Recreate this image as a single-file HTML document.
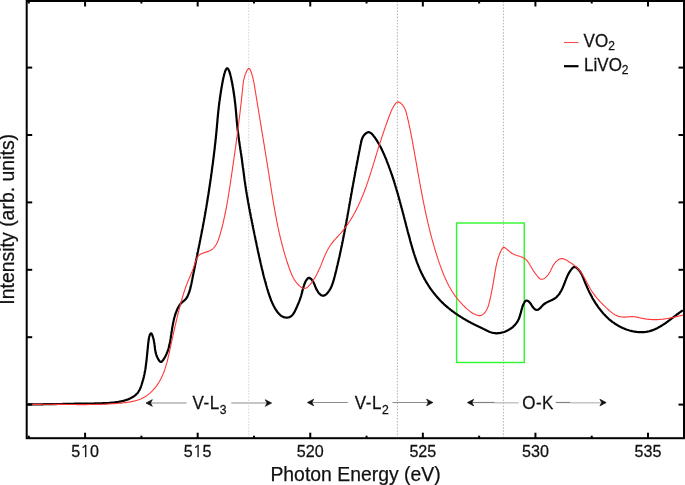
<!DOCTYPE html>
<html><head><meta charset="utf-8"><style>
html,body{margin:0;padding:0;background:#fff;}
body{width:685px;height:485px;overflow:hidden;}
svg{display:block;font-family:"Liberation Sans",Arial,sans-serif;}
text{stroke:#111;stroke-width:0.25px;}
</style></head><body>
<svg width="685" height="485" viewBox="0 0 685 485">
<rect width="685" height="485" fill="#fff"/>
<g stroke="#a8a8a8" stroke-width="1" stroke-dasharray="1.5 1.587" stroke-dashoffset="0.77"><line x1="248.7" y1="2" x2="248.7" y2="437" stroke="#d2d2d2"/><line x1="397.4" y1="2" x2="397.4" y2="437" stroke="#b0b0b0"/><line x1="503.4" y1="2" x2="503.4" y2="437" stroke="#b0b0b0"/></g>
<rect x="456.6" y="223" width="67.7" height="139.5" fill="none" stroke="#2cf82c" stroke-width="1.4"/>
<path d="M27.5 404.4 L28.3 404.4 L29.1 404.4 L29.9 404.4 L30.7 404.4 L31.5 404.4 L32.3 404.4 L33.1 404.4 L33.9 404.3 L34.7 404.3 L35.5 404.3 L36.3 404.3 L37.1 404.3 L37.9 404.3 L38.7 404.3 L39.5 404.3 L40.3 404.3 L41.1 404.3 L41.9 404.3 L42.7 404.3 L43.5 404.2 L44.3 404.2 L45.1 404.2 L45.9 404.2 L46.7 404.2 L47.5 404.2 L48.3 404.2 L49.1 404.2 L49.9 404.2 L50.7 404.1 L51.5 404.1 L52.3 404.1 L53.1 404.1 L53.9 404.1 L54.7 404.1 L55.5 404.1 L56.3 404.1 L57.1 404.0 L57.9 404.0 L58.7 404.0 L59.5 404.0 L60.3 404.0 L61.1 404.0 L61.9 404.0 L62.7 403.9 L63.5 403.9 L64.3 403.9 L65.1 403.9 L65.9 403.9 L66.7 403.9 L67.5 403.9 L68.3 403.9 L69.1 403.8 L69.9 403.8 L70.7 403.8 L71.5 403.8 L72.3 403.8 L73.1 403.8 L73.9 403.8 L74.7 403.7 L75.5 403.7 L76.3 403.7 L77.1 403.7 L77.9 403.7 L78.7 403.7 L79.5 403.7 L80.3 403.6 L81.1 403.6 L81.9 403.6 L82.7 403.6 L83.5 403.6 L84.3 403.6 L85.1 403.6 L85.9 403.6 L86.7 403.6 L87.5 403.5 L88.3 403.5 L89.1 403.5 L89.9 403.5 L90.7 403.5 L91.5 403.5 L92.4 403.5 L93.2 403.5 L94.0 403.5 L94.8 403.4 L95.6 403.4 L96.4 403.4 L97.2 403.4 L98.0 403.4 L98.8 403.4 L99.6 403.3 L100.4 403.3 L101.2 403.3 L102.0 403.3 L102.8 403.2 L103.6 403.2 L104.4 403.2 L105.2 403.1 L106.0 403.1 L106.8 403.1 L107.6 403.0 L108.4 403.0 L109.2 402.9 L110.0 402.8 L110.8 402.8 L111.6 402.7 L112.4 402.6 L113.2 402.5 L113.9 402.5 L114.7 402.4 L115.5 402.3 L116.3 402.2 L117.1 402.1 L117.9 402.0 L118.7 401.8 L119.4 401.7 L120.2 401.6 L121.0 401.4 L121.8 401.2 L122.5 401.1 L123.3 400.9 L124.1 400.7 L124.9 400.4 L125.6 400.2 L126.4 399.9 L127.2 399.7 L127.9 399.4 L128.7 399.1 L129.5 398.7 L130.2 398.4 L130.9 398.0 L131.7 397.6 L132.4 397.2 L133.1 396.8 L133.8 396.3 L134.4 395.9 L135.1 395.4 L135.7 394.9 L136.3 394.3 L136.8 393.8 L137.4 393.2 L137.9 392.6 L138.3 392.0 L138.7 391.3 L139.1 390.6 L139.5 390.0 L139.9 389.3 L140.2 388.5 L140.5 387.8 L140.8 387.1 L141.0 386.3 L141.3 385.6 L141.6 384.8 L141.8 384.0 L142.0 383.3 L142.3 382.5 L142.5 381.7 L142.7 380.9 L143.0 380.1 L143.2 379.4 L143.4 378.6 L143.6 377.8 L143.8 377.0 L144.0 376.2 L144.1 375.4 L144.3 374.7 L144.5 373.9 L144.6 373.1 L144.8 372.3 L144.9 371.5 L145.1 370.7 L145.2 370.0 L145.4 369.2 L145.5 368.4 L145.6 367.6 L145.7 366.8 L145.8 366.0 L145.9 365.2 L146.0 364.5 L146.1 363.7 L146.2 362.9 L146.3 362.1 L146.4 361.3 L146.5 360.5 L146.6 359.7 L146.7 358.9 L146.8 358.1 L146.8 357.4 L146.9 356.6 L147.0 355.8 L147.1 355.0 L147.1 354.2 L147.2 353.4 L147.3 352.6 L147.4 351.8 L147.5 351.0 L147.5 350.2 L147.6 349.4 L147.7 348.6 L147.8 347.8 L147.9 347.0 L147.9 346.2 L148.0 345.4 L148.1 344.6 L148.2 343.7 L148.3 342.9 L148.4 342.1 L148.5 341.3 L148.6 340.5 L148.7 339.7 L148.8 338.8 L149.0 338.0 L149.1 337.2 L149.3 336.4 L149.6 335.6 L149.8 334.9 L150.2 334.2 L150.5 333.7 L150.9 333.4 L151.2 333.4 L151.6 333.8 L152.0 334.4 L152.3 335.1 L152.6 336.0 L152.9 337.0 L153.2 338.0 L153.5 338.9 L153.7 339.9 L153.9 340.8 L154.0 341.7 L154.2 342.6 L154.3 343.4 L154.4 344.2 L154.6 345.0 L154.7 345.8 L154.8 346.6 L154.8 347.3 L154.9 348.1 L155.0 348.8 L155.1 349.5 L155.2 350.3 L155.4 351.0 L155.5 351.7 L155.6 352.4 L155.8 353.1 L156.0 353.8 L156.2 354.6 L156.5 355.3 L156.7 356.0 L157.0 356.8 L157.4 357.5 L157.8 358.3 L158.2 359.1 L158.7 359.9 L159.2 360.7 L159.7 361.3 L160.2 361.7 L160.8 361.9 L161.4 361.8 L161.9 361.4 L162.4 360.9 L163.0 360.2 L163.5 359.5 L164.0 358.7 L164.4 358.0 L164.9 357.2 L165.3 356.5 L165.7 355.7 L166.0 355.0 L166.4 354.2 L166.7 353.5 L167.0 352.7 L167.3 352.0 L167.6 351.2 L167.9 350.5 L168.1 349.7 L168.4 348.9 L168.6 348.2 L168.8 347.4 L169.0 346.6 L169.2 345.9 L169.4 345.1 L169.6 344.3 L169.7 343.6 L169.9 342.8 L170.0 342.0 L170.2 341.2 L170.3 340.4 L170.4 339.7 L170.6 338.9 L170.7 338.1 L170.8 337.3 L170.9 336.5 L171.0 335.7 L171.2 334.9 L171.3 334.1 L171.4 333.3 L171.5 332.5 L171.6 331.8 L171.8 331.0 L171.9 330.2 L172.0 329.4 L172.1 328.6 L172.3 327.8 L172.4 327.0 L172.5 326.2 L172.7 325.4 L172.8 324.6 L173.0 323.8 L173.1 323.0 L173.3 322.2 L173.5 321.4 L173.6 320.7 L173.8 319.9 L174.0 319.1 L174.2 318.3 L174.4 317.5 L174.6 316.8 L174.8 316.0 L175.1 315.2 L175.3 314.5 L175.6 313.7 L175.8 313.0 L176.1 312.2 L176.4 311.5 L176.7 310.7 L177.0 310.0 L177.3 309.2 L177.6 308.5 L178.0 307.8 L178.4 307.1 L178.8 306.4 L179.2 305.7 L179.6 305.1 L180.1 304.4 L180.6 303.8 L181.1 303.2 L181.7 302.7 L182.3 302.1 L182.9 301.6 L183.5 301.1 L184.2 300.6 L184.8 300.0 L185.3 299.5 L185.9 298.9 L186.3 298.2 L186.8 297.6 L187.2 296.9 L187.6 296.2 L187.9 295.4 L188.2 294.7 L188.5 293.9 L188.8 293.2 L189.1 292.4 L189.4 291.7 L189.6 290.9 L189.8 290.2 L190.1 289.4 L190.3 288.6 L190.5 287.8 L190.6 287.1 L190.8 286.3 L191.0 285.5 L191.2 284.7 L191.3 283.9 L191.5 283.2 L191.7 282.4 L191.8 281.6 L192.0 280.8 L192.1 280.0 L192.3 279.2 L192.4 278.5 L192.6 277.7 L192.7 276.9 L192.9 276.1 L193.1 275.3 L193.2 274.5 L193.4 273.7 L193.5 273.0 L193.7 272.2 L193.9 271.4 L194.0 270.6 L194.2 269.8 L194.3 269.0 L194.5 268.2 L194.7 267.5 L194.8 266.7 L195.0 265.9 L195.1 265.1 L195.3 264.3 L195.5 263.5 L195.6 262.7 L195.8 262.0 L195.9 261.2 L196.1 260.4 L196.3 259.6 L196.4 258.8 L196.6 258.0 L196.7 257.2 L196.9 256.5 L197.1 255.7 L197.2 254.9 L197.4 254.1 L197.5 253.3 L197.7 252.5 L197.9 251.7 L198.0 251.0 L198.2 250.2 L198.3 249.4 L198.5 248.6 L198.7 247.8 L198.8 247.0 L199.0 246.2 L199.1 245.5 L199.3 244.7 L199.5 243.9 L199.6 243.1 L199.8 242.3 L199.9 241.5 L200.1 240.8 L200.2 240.0 L200.4 239.2 L200.5 238.4 L200.7 237.6 L200.9 236.8 L201.0 236.0 L201.2 235.3 L201.3 234.5 L201.5 233.7 L201.6 232.9 L201.8 232.1 L201.9 231.3 L202.1 230.6 L202.2 229.8 L202.4 229.0 L202.5 228.2 L202.7 227.4 L202.8 226.6 L203.0 225.9 L203.1 225.1 L203.3 224.3 L203.4 223.5 L203.5 222.7 L203.7 222.0 L203.8 221.2 L204.0 220.4 L204.1 219.6 L204.3 218.8 L204.4 218.0 L204.5 217.3 L204.7 216.5 L204.8 215.7 L205.0 214.9 L205.1 214.1 L205.2 213.4 L205.4 212.6 L205.5 211.8 L205.6 211.0 L205.8 210.2 L205.9 209.4 L206.0 208.7 L206.2 207.9 L206.3 207.1 L206.4 206.3 L206.6 205.5 L206.7 204.7 L206.8 203.9 L207.0 203.2 L207.1 202.4 L207.2 201.6 L207.4 200.8 L207.5 200.0 L207.6 199.2 L207.7 198.4 L207.9 197.6 L208.0 196.8 L208.1 196.1 L208.2 195.3 L208.4 194.5 L208.5 193.7 L208.6 192.9 L208.7 192.1 L208.9 191.3 L209.0 190.5 L209.1 189.7 L209.2 188.9 L209.3 188.1 L209.5 187.3 L209.6 186.5 L209.7 185.7 L209.8 184.9 L209.9 184.1 L210.1 183.3 L210.2 182.5 L210.3 181.6 L210.4 180.8 L210.5 180.0 L210.6 179.2 L210.8 178.4 L210.9 177.6 L211.0 176.8 L211.1 176.0 L211.2 175.1 L211.3 174.3 L211.4 173.5 L211.6 172.7 L211.7 171.9 L211.8 171.0 L211.9 170.2 L212.0 169.4 L212.1 168.6 L212.2 167.8 L212.3 166.9 L212.4 166.1 L212.6 165.3 L212.7 164.5 L212.8 163.7 L212.9 162.8 L213.0 162.0 L213.1 161.2 L213.2 160.4 L213.3 159.6 L213.4 158.8 L213.5 157.9 L213.6 157.1 L213.7 156.3 L213.8 155.5 L213.9 154.7 L214.0 153.9 L214.1 153.1 L214.2 152.3 L214.3 151.5 L214.4 150.7 L214.5 149.9 L214.6 149.1 L214.7 148.3 L214.8 147.5 L214.8 146.7 L214.9 145.9 L215.0 145.1 L215.1 144.3 L215.2 143.5 L215.3 142.8 L215.4 142.0 L215.5 141.2 L215.5 140.4 L215.6 139.7 L215.7 138.9 L215.8 138.1 L215.9 137.4 L215.9 136.6 L216.0 135.9 L216.1 135.1 L216.2 134.4 L216.2 133.6 L216.3 132.9 L216.4 132.1 L216.5 131.4 L216.5 130.7 L216.6 130.0 L216.7 129.2 L216.7 128.5 L216.8 127.8 L216.9 127.1 L216.9 126.4 L217.0 125.7 L217.0 125.0 L217.1 124.3 L217.2 123.6 L217.2 122.9 L217.3 122.2 L217.4 121.5 L217.4 120.8 L217.5 120.1 L217.5 119.4 L217.6 118.7 L217.7 117.9 L217.7 117.2 L217.8 116.5 L217.9 115.8 L217.9 115.1 L218.0 114.4 L218.1 113.6 L218.2 112.9 L218.2 112.2 L218.3 111.4 L218.4 110.7 L218.5 109.9 L218.6 109.1 L218.6 108.4 L218.7 107.6 L218.8 106.8 L218.9 106.0 L219.0 105.2 L219.1 104.4 L219.2 103.6 L219.3 102.7 L219.4 101.9 L219.5 101.0 L219.7 100.2 L219.8 99.3 L219.9 98.4 L220.0 97.5 L220.2 96.6 L220.3 95.7 L220.4 94.7 L220.6 93.8 L220.7 92.8 L220.9 91.8 L221.0 90.8 L221.2 89.8 L221.4 88.8 L221.5 87.7 L221.7 86.7 L221.9 85.6 L222.1 84.5 L222.3 83.5 L222.5 82.4 L222.7 81.3 L222.9 80.3 L223.1 79.2 L223.3 78.2 L223.5 77.2 L223.8 76.2 L224.0 75.3 L224.2 74.4 L224.4 73.6 L224.7 72.8 L224.9 72.0 L225.1 71.3 L225.4 70.7 L225.6 70.1 L225.9 69.6 L226.1 69.2 L226.4 68.8 L226.6 68.6 L226.9 68.4 L227.1 68.3 L227.4 68.3 L227.6 68.4 L227.9 68.6 L228.1 68.9 L228.4 69.3 L228.6 69.7 L228.8 70.2 L229.1 70.8 L229.3 71.5 L229.6 72.2 L229.8 73.0 L230.1 73.8 L230.3 74.6 L230.5 75.5 L230.8 76.5 L231.0 77.4 L231.2 78.4 L231.4 79.5 L231.6 80.5 L231.8 81.6 L232.1 82.6 L232.3 83.7 L232.4 84.8 L232.6 85.9 L232.8 86.9 L233.0 88.0 L233.2 89.0 L233.3 90.0 L233.5 91.0 L233.6 92.0 L233.8 93.0 L233.9 94.0 L234.1 94.9 L234.2 95.9 L234.3 96.8 L234.5 97.7 L234.6 98.6 L234.7 99.4 L234.8 100.3 L234.9 101.2 L235.0 102.0 L235.1 102.9 L235.2 103.7 L235.3 104.5 L235.4 105.3 L235.5 106.1 L235.5 106.9 L235.6 107.7 L235.7 108.5 L235.8 109.2 L235.8 110.0 L235.9 110.7 L236.0 111.5 L236.0 112.2 L236.1 113.0 L236.2 113.7 L236.2 114.4 L236.3 115.1 L236.4 115.9 L236.4 116.6 L236.5 117.3 L236.5 118.0 L236.6 118.7 L236.7 119.4 L236.7 120.1 L236.8 120.8 L236.8 121.5 L236.9 122.3 L237.0 123.0 L237.0 123.7 L237.1 124.4 L237.2 125.1 L237.2 125.8 L237.3 126.5 L237.4 127.2 L237.5 128.0 L237.5 128.7 L237.6 129.4 L237.7 130.2 L237.8 130.9 L237.9 131.6 L238.0 132.4 L238.1 133.1 L238.2 133.9 L238.3 134.7 L238.4 135.4 L238.5 136.2 L238.6 137.0 L238.7 137.8 L238.8 138.5 L238.9 139.3 L239.0 140.1 L239.1 140.9 L239.3 141.7 L239.4 142.5 L239.5 143.3 L239.6 144.1 L239.7 144.9 L239.8 145.7 L240.0 146.5 L240.1 147.3 L240.2 148.1 L240.3 148.9 L240.4 149.7 L240.6 150.5 L240.7 151.3 L240.8 152.2 L240.9 153.0 L241.1 153.8 L241.2 154.6 L241.3 155.4 L241.4 156.2 L241.5 157.0 L241.6 157.8 L241.8 158.6 L241.9 159.5 L242.0 160.3 L242.1 161.1 L242.2 161.9 L242.3 162.7 L242.4 163.5 L242.5 164.3 L242.6 165.1 L242.7 165.9 L242.8 166.7 L242.9 167.5 L243.1 168.3 L243.2 169.1 L243.3 169.9 L243.4 170.7 L243.5 171.5 L243.6 172.3 L243.7 173.1 L243.8 173.9 L243.9 174.6 L244.0 175.4 L244.1 176.2 L244.2 177.0 L244.3 177.8 L244.4 178.6 L244.5 179.4 L244.6 180.2 L244.7 181.0 L244.9 181.8 L245.0 182.6 L245.1 183.3 L245.2 184.1 L245.3 184.9 L245.4 185.7 L245.6 186.5 L245.7 187.3 L245.8 188.1 L245.9 188.9 L246.0 189.7 L246.2 190.4 L246.3 191.2 L246.4 192.0 L246.6 192.8 L246.7 193.6 L246.8 194.4 L247.0 195.2 L247.1 196.0 L247.2 196.7 L247.4 197.5 L247.5 198.3 L247.6 199.1 L247.8 199.9 L247.9 200.7 L248.0 201.5 L248.2 202.3 L248.3 203.0 L248.5 203.8 L248.6 204.6 L248.8 205.4 L248.9 206.2 L249.0 207.0 L249.2 207.8 L249.3 208.5 L249.5 209.3 L249.6 210.1 L249.8 210.9 L249.9 211.7 L250.1 212.5 L250.2 213.3 L250.4 214.0 L250.5 214.8 L250.7 215.6 L250.8 216.4 L251.0 217.2 L251.2 218.0 L251.3 218.8 L251.5 219.5 L251.6 220.3 L251.8 221.1 L251.9 221.9 L252.1 222.7 L252.3 223.5 L252.4 224.2 L252.6 225.0 L252.7 225.8 L252.9 226.6 L253.0 227.4 L253.2 228.2 L253.4 229.0 L253.5 229.7 L253.7 230.5 L253.9 231.3 L254.0 232.1 L254.2 232.9 L254.3 233.7 L254.5 234.5 L254.7 235.2 L254.8 236.0 L255.0 236.8 L255.1 237.6 L255.3 238.4 L255.5 239.2 L255.6 240.0 L255.8 240.7 L256.0 241.5 L256.1 242.3 L256.3 243.1 L256.5 243.9 L256.6 244.7 L256.8 245.5 L256.9 246.2 L257.1 247.0 L257.3 247.8 L257.4 248.6 L257.6 249.4 L257.8 250.2 L257.9 251.0 L258.1 251.7 L258.3 252.5 L258.4 253.3 L258.6 254.1 L258.8 254.9 L259.0 255.7 L259.1 256.4 L259.3 257.2 L259.5 258.0 L259.7 258.8 L259.8 259.6 L260.0 260.4 L260.2 261.1 L260.4 261.9 L260.5 262.7 L260.7 263.5 L260.9 264.3 L261.1 265.0 L261.3 265.8 L261.4 266.6 L261.6 267.4 L261.8 268.2 L262.0 268.9 L262.2 269.7 L262.4 270.5 L262.6 271.3 L262.8 272.1 L262.9 272.8 L263.1 273.6 L263.3 274.4 L263.5 275.2 L263.7 275.9 L263.9 276.7 L264.1 277.5 L264.3 278.2 L264.5 279.0 L264.7 279.8 L264.9 280.6 L265.2 281.3 L265.4 282.1 L265.6 282.9 L265.8 283.6 L266.0 284.4 L266.2 285.2 L266.4 285.9 L266.7 286.7 L266.9 287.5 L267.1 288.2 L267.3 289.0 L267.5 289.7 L267.8 290.5 L268.0 291.3 L268.2 292.0 L268.5 292.8 L268.7 293.5 L269.0 294.3 L269.2 295.0 L269.5 295.8 L269.7 296.5 L270.0 297.3 L270.3 298.0 L270.6 298.8 L270.8 299.5 L271.1 300.3 L271.4 301.0 L271.8 301.8 L272.1 302.5 L272.4 303.2 L272.8 304.0 L273.1 304.7 L273.5 305.4 L273.8 306.2 L274.2 306.9 L274.6 307.6 L275.0 308.3 L275.5 309.1 L275.9 309.8 L276.4 310.5 L276.8 311.2 L277.3 311.8 L277.8 312.5 L278.4 313.1 L278.9 313.7 L279.5 314.3 L280.0 314.8 L280.6 315.3 L281.3 315.8 L281.9 316.2 L282.6 316.6 L283.3 316.9 L284.0 317.2 L284.7 317.4 L285.5 317.5 L286.3 317.6 L287.1 317.6 L287.9 317.5 L288.7 317.4 L289.4 317.2 L290.1 316.8 L290.8 316.5 L291.4 316.0 L292.0 315.5 L292.5 314.9 L293.0 314.3 L293.5 313.6 L293.9 312.9 L294.4 312.2 L294.8 311.4 L295.2 310.6 L295.5 309.9 L295.9 309.1 L296.3 308.3 L296.6 307.5 L297.0 306.7 L297.3 305.9 L297.6 305.1 L298.0 304.4 L298.3 303.6 L298.6 302.9 L298.9 302.1 L299.2 301.4 L299.5 300.6 L299.7 299.9 L300.0 299.1 L300.3 298.4 L300.5 297.7 L300.8 296.9 L301.0 296.2 L301.2 295.5 L301.4 294.7 L301.6 294.0 L301.8 293.3 L302.0 292.6 L302.2 291.9 L302.4 291.1 L302.5 290.4 L302.7 289.7 L302.9 288.9 L303.1 288.1 L303.4 287.4 L303.6 286.6 L303.9 285.8 L304.1 284.9 L304.5 284.1 L304.8 283.2 L305.2 282.3 L305.6 281.4 L306.1 280.5 L306.6 279.8 L307.1 279.1 L307.6 278.5 L308.2 278.1 L308.8 277.9 L309.4 277.9 L310.0 278.1 L310.6 278.6 L311.3 279.2 L311.8 279.8 L312.4 280.6 L312.9 281.3 L313.3 282.0 L313.7 282.8 L314.0 283.5 L314.3 284.1 L314.6 284.8 L314.9 285.5 L315.1 286.2 L315.4 286.9 L315.7 287.6 L316.0 288.4 L316.4 289.1 L316.8 289.9 L317.3 290.7 L317.8 291.5 L318.3 292.3 L318.8 293.0 L319.4 293.6 L320.0 294.2 L320.6 294.8 L321.3 295.2 L321.9 295.5 L322.6 295.7 L323.2 295.7 L323.9 295.6 L324.5 295.4 L325.2 295.0 L325.8 294.6 L326.4 294.1 L327.0 293.5 L327.6 292.8 L328.1 292.2 L328.6 291.5 L329.1 290.9 L329.5 290.2 L330.0 289.5 L330.4 288.8 L330.7 288.1 L331.1 287.4 L331.4 286.7 L331.7 285.9 L332.0 285.2 L332.3 284.4 L332.6 283.7 L332.8 282.9 L333.1 282.2 L333.3 281.4 L333.5 280.6 L333.8 279.9 L334.0 279.1 L334.2 278.3 L334.4 277.5 L334.6 276.7 L334.8 276.0 L335.0 275.2 L335.2 274.4 L335.4 273.6 L335.6 272.9 L335.8 272.1 L336.0 271.3 L336.2 270.5 L336.4 269.7 L336.5 269.0 L336.7 268.2 L336.9 267.4 L337.1 266.6 L337.3 265.8 L337.5 265.1 L337.7 264.3 L337.8 263.5 L338.0 262.7 L338.2 261.9 L338.4 261.1 L338.6 260.4 L338.7 259.6 L338.9 258.8 L339.1 258.0 L339.3 257.2 L339.5 256.5 L339.6 255.7 L339.8 254.9 L340.0 254.1 L340.1 253.3 L340.3 252.5 L340.5 251.8 L340.6 251.0 L340.8 250.2 L341.0 249.4 L341.1 248.6 L341.3 247.8 L341.5 247.1 L341.6 246.3 L341.8 245.5 L342.0 244.7 L342.1 243.9 L342.3 243.1 L342.4 242.3 L342.6 241.6 L342.8 240.8 L342.9 240.0 L343.1 239.2 L343.2 238.4 L343.4 237.6 L343.5 236.9 L343.7 236.1 L343.8 235.3 L344.0 234.5 L344.1 233.7 L344.3 232.9 L344.4 232.1 L344.6 231.4 L344.7 230.6 L344.9 229.8 L345.0 229.0 L345.2 228.2 L345.3 227.4 L345.5 226.6 L345.6 225.8 L345.8 225.1 L345.9 224.3 L346.1 223.5 L346.2 222.7 L346.4 221.9 L346.5 221.1 L346.7 220.3 L346.8 219.6 L346.9 218.8 L347.1 218.0 L347.2 217.2 L347.4 216.4 L347.5 215.6 L347.7 214.8 L347.8 214.0 L347.9 213.3 L348.1 212.5 L348.2 211.7 L348.4 210.9 L348.5 210.1 L348.6 209.3 L348.8 208.5 L348.9 207.7 L349.1 207.0 L349.2 206.2 L349.3 205.4 L349.5 204.6 L349.6 203.8 L349.8 203.0 L349.9 202.2 L350.0 201.4 L350.2 200.7 L350.3 199.9 L350.5 199.1 L350.6 198.3 L350.7 197.5 L350.9 196.7 L351.0 195.9 L351.2 195.1 L351.3 194.4 L351.4 193.6 L351.6 192.8 L351.7 192.0 L351.9 191.2 L352.0 190.4 L352.1 189.6 L352.3 188.8 L352.4 188.1 L352.6 187.3 L352.7 186.5 L352.8 185.7 L353.0 184.9 L353.1 184.1 L353.3 183.3 L353.4 182.5 L353.6 181.8 L353.7 181.0 L353.8 180.2 L354.0 179.4 L354.1 178.6 L354.3 177.8 L354.4 177.0 L354.6 176.2 L354.7 175.5 L354.9 174.7 L355.0 173.9 L355.1 173.1 L355.3 172.3 L355.4 171.5 L355.6 170.7 L355.7 169.9 L355.9 169.2 L356.0 168.4 L356.2 167.6 L356.3 166.8 L356.5 166.0 L356.6 165.2 L356.8 164.4 L356.9 163.6 L357.1 162.9 L357.2 162.1 L357.4 161.3 L357.5 160.5 L357.7 159.7 L357.8 158.9 L358.0 158.1 L358.1 157.3 L358.3 156.6 L358.4 155.8 L358.6 155.0 L358.7 154.2 L358.9 153.4 L359.0 152.6 L359.2 151.8 L359.4 151.0 L359.5 150.3 L359.7 149.5 L359.8 148.7 L360.0 147.9 L360.1 147.1 L360.3 146.3 L360.4 145.5 L360.6 144.7 L360.8 143.9 L360.9 143.2 L361.1 142.4 L361.3 141.6 L361.4 140.8 L361.7 140.0 L361.9 139.3 L362.2 138.5 L362.5 137.8 L362.8 137.1 L363.2 136.4 L363.7 135.7 L364.2 135.0 L364.8 134.4 L365.4 133.8 L366.1 133.2 L366.8 132.8 L367.5 132.4 L368.2 132.2 L368.9 132.2 L369.6 132.4 L370.3 132.7 L371.0 133.1 L371.6 133.6 L372.2 134.2 L372.8 134.9 L373.3 135.6 L373.9 136.3 L374.4 137.0 L374.9 137.7 L375.4 138.4 L375.9 139.1 L376.3 139.8 L376.8 140.4 L377.2 141.1 L377.6 141.8 L378.0 142.4 L378.4 143.1 L378.8 143.8 L379.2 144.5 L379.6 145.1 L379.9 145.8 L380.3 146.5 L380.7 147.2 L381.0 147.9 L381.4 148.6 L381.7 149.4 L382.1 150.1 L382.4 150.8 L382.8 151.5 L383.1 152.2 L383.4 153.0 L383.8 153.7 L384.1 154.4 L384.4 155.2 L384.7 155.9 L385.0 156.7 L385.3 157.4 L385.6 158.1 L386.0 158.9 L386.3 159.6 L386.6 160.4 L386.8 161.1 L387.1 161.9 L387.4 162.6 L387.7 163.4 L388.0 164.1 L388.3 164.9 L388.6 165.6 L388.9 166.4 L389.1 167.1 L389.4 167.9 L389.7 168.6 L390.0 169.4 L390.2 170.1 L390.5 170.9 L390.8 171.6 L391.0 172.4 L391.3 173.2 L391.6 173.9 L391.8 174.7 L392.1 175.4 L392.3 176.2 L392.6 177.0 L392.8 177.7 L393.1 178.5 L393.3 179.2 L393.6 180.0 L393.8 180.8 L394.1 181.5 L394.3 182.3 L394.5 183.0 L394.8 183.8 L395.0 184.6 L395.2 185.3 L395.5 186.1 L395.7 186.9 L395.9 187.6 L396.2 188.4 L396.4 189.2 L396.6 189.9 L396.8 190.7 L397.1 191.5 L397.3 192.2 L397.5 193.0 L397.7 193.8 L398.0 194.5 L398.2 195.3 L398.4 196.1 L398.6 196.8 L398.8 197.6 L399.0 198.4 L399.2 199.2 L399.5 199.9 L399.7 200.7 L399.9 201.5 L400.1 202.2 L400.3 203.0 L400.5 203.8 L400.7 204.6 L400.9 205.3 L401.1 206.1 L401.3 206.9 L401.5 207.6 L401.8 208.4 L402.0 209.2 L402.2 210.0 L402.4 210.7 L402.6 211.5 L402.8 212.3 L403.0 213.1 L403.2 213.8 L403.4 214.6 L403.6 215.4 L403.8 216.2 L404.0 216.9 L404.2 217.7 L404.4 218.5 L404.6 219.3 L404.8 220.0 L405.0 220.8 L405.2 221.6 L405.4 222.4 L405.6 223.1 L405.8 223.9 L406.0 224.7 L406.2 225.5 L406.4 226.2 L406.6 227.0 L406.8 227.8 L407.0 228.6 L407.2 229.3 L407.4 230.1 L407.6 230.9 L407.8 231.7 L408.0 232.4 L408.2 233.2 L408.4 234.0 L408.6 234.8 L408.9 235.5 L409.1 236.3 L409.3 237.1 L409.5 237.9 L409.7 238.6 L409.9 239.4 L410.1 240.2 L410.3 241.0 L410.5 241.7 L410.7 242.5 L411.0 243.3 L411.2 244.1 L411.4 244.8 L411.6 245.6 L411.8 246.4 L412.1 247.2 L412.3 247.9 L412.5 248.7 L412.7 249.5 L413.0 250.2 L413.2 251.0 L413.4 251.8 L413.7 252.5 L413.9 253.3 L414.2 254.1 L414.4 254.8 L414.7 255.6 L414.9 256.3 L415.2 257.1 L415.4 257.9 L415.7 258.6 L415.9 259.4 L416.2 260.1 L416.5 260.9 L416.7 261.6 L417.0 262.4 L417.3 263.1 L417.6 263.9 L417.9 264.6 L418.2 265.4 L418.5 266.1 L418.8 266.8 L419.1 267.6 L419.4 268.3 L419.7 269.1 L420.0 269.8 L420.3 270.5 L420.7 271.3 L421.0 272.0 L421.3 272.7 L421.7 273.4 L422.0 274.1 L422.4 274.9 L422.8 275.6 L423.1 276.3 L423.5 277.0 L423.9 277.7 L424.2 278.4 L424.6 279.1 L425.0 279.8 L425.4 280.5 L425.8 281.2 L426.2 281.9 L426.6 282.6 L427.0 283.3 L427.5 283.9 L427.9 284.6 L428.3 285.3 L428.8 286.0 L429.2 286.6 L429.6 287.3 L430.1 288.0 L430.5 288.6 L431.0 289.3 L431.5 289.9 L431.9 290.6 L432.4 291.2 L432.9 291.9 L433.4 292.5 L433.9 293.1 L434.4 293.8 L434.9 294.4 L435.4 295.0 L435.9 295.6 L436.4 296.2 L436.9 296.8 L437.4 297.4 L438.0 298.0 L438.5 298.6 L439.1 299.2 L439.6 299.8 L440.2 300.4 L440.7 301.0 L441.3 301.5 L441.8 302.1 L442.4 302.7 L443.0 303.2 L443.6 303.8 L444.1 304.3 L444.7 304.8 L445.3 305.4 L445.9 305.9 L446.5 306.4 L447.1 307.0 L447.8 307.5 L448.4 308.0 L449.0 308.5 L449.6 309.0 L450.3 309.5 L450.9 310.0 L451.5 310.5 L452.2 311.0 L452.8 311.4 L453.5 311.9 L454.1 312.4 L454.8 312.9 L455.4 313.3 L456.1 313.8 L456.7 314.2 L457.4 314.7 L458.1 315.1 L458.7 315.6 L459.4 316.0 L460.1 316.4 L460.8 316.9 L461.5 317.3 L462.1 317.7 L462.8 318.1 L463.5 318.6 L464.2 319.0 L464.9 319.4 L465.6 319.8 L466.3 320.2 L467.0 320.6 L467.7 321.0 L468.4 321.4 L469.1 321.7 L469.8 322.1 L470.5 322.5 L471.2 322.9 L471.9 323.2 L472.6 323.6 L473.3 324.0 L474.0 324.3 L474.7 324.7 L475.5 325.0 L476.2 325.4 L476.9 325.7 L477.6 326.1 L478.3 326.4 L479.0 326.8 L479.7 327.1 L480.5 327.5 L481.2 327.8 L481.9 328.1 L482.6 328.5 L483.3 328.8 L484.1 329.2 L484.8 329.5 L485.5 329.9 L486.2 330.3 L487.0 330.6 L487.7 331.0 L488.4 331.3 L489.2 331.7 L489.9 332.0 L490.7 332.2 L491.4 332.5 L492.2 332.7 L493.0 332.9 L493.8 333.0 L494.5 333.1 L495.3 333.2 L496.1 333.3 L496.9 333.3 L497.7 333.2 L498.5 333.2 L499.3 333.1 L500.1 333.0 L500.9 332.8 L501.7 332.6 L502.5 332.4 L503.2 332.2 L504.0 332.0 L504.8 331.7 L505.5 331.4 L506.3 331.1 L507.0 330.8 L507.7 330.4 L508.4 330.0 L509.2 329.6 L509.8 329.2 L510.5 328.7 L511.2 328.3 L511.8 327.8 L512.4 327.3 L513.1 326.8 L513.6 326.2 L514.2 325.7 L514.8 325.1 L515.3 324.5 L515.8 323.9 L516.3 323.3 L516.7 322.7 L517.2 322.0 L517.6 321.3 L518.0 320.6 L518.3 319.9 L518.7 319.2 L519.0 318.5 L519.3 317.8 L519.5 317.0 L519.8 316.3 L520.0 315.5 L520.2 314.7 L520.4 313.9 L520.7 313.1 L520.9 312.4 L521.1 311.6 L521.3 310.8 L521.5 310.0 L521.7 309.2 L521.9 308.4 L522.2 307.6 L522.4 306.8 L522.7 306.0 L523.0 305.2 L523.3 304.5 L523.7 303.7 L524.1 303.0 L524.5 302.2 L524.9 301.6 L525.4 301.1 L526.0 300.7 L526.6 300.6 L527.2 300.7 L527.9 301.0 L528.6 301.4 L529.2 302.0 L529.8 302.6 L530.3 303.2 L530.8 303.9 L531.2 304.6 L531.7 305.3 L532.1 306.1 L532.6 306.8 L533.2 307.5 L533.8 308.2 L534.4 308.8 L535.1 309.3 L535.8 309.7 L536.4 309.9 L537.1 310.0 L537.7 309.8 L538.3 309.6 L538.8 309.2 L539.4 308.8 L540.0 308.2 L540.6 307.6 L541.2 307.0 L541.8 306.3 L542.4 305.7 L543.0 305.0 L543.6 304.5 L544.3 304.0 L545.0 303.5 L545.7 303.0 L546.4 302.6 L547.1 302.3 L547.8 301.9 L548.5 301.6 L549.3 301.2 L550.0 300.9 L550.7 300.6 L551.4 300.3 L552.2 299.9 L552.8 299.6 L553.5 299.2 L554.2 298.8 L554.8 298.4 L555.5 298.0 L556.1 297.5 L556.6 297.0 L557.2 296.4 L557.7 295.8 L558.3 295.2 L558.7 294.6 L559.2 294.0 L559.7 293.3 L560.1 292.6 L560.5 291.9 L561.0 291.2 L561.4 290.5 L561.7 289.7 L562.1 289.0 L562.4 288.2 L562.8 287.5 L563.1 286.7 L563.4 286.0 L563.7 285.2 L564.0 284.5 L564.3 283.7 L564.6 283.0 L564.9 282.2 L565.2 281.5 L565.4 280.8 L565.7 280.1 L566.0 279.3 L566.3 278.6 L566.6 277.9 L566.9 277.2 L567.2 276.4 L567.5 275.7 L567.9 275.0 L568.2 274.3 L568.6 273.6 L569.0 272.9 L569.4 272.2 L569.9 271.5 L570.3 270.8 L570.8 270.1 L571.4 269.4 L571.9 268.7 L572.5 268.0 L573.1 267.5 L573.7 267.1 L574.3 266.9 L575.0 266.9 L575.7 267.2 L576.4 267.6 L577.0 268.1 L577.6 268.7 L578.2 269.3 L578.8 270.0 L579.3 270.6 L579.8 271.3 L580.3 271.9 L580.7 272.6 L581.1 273.3 L581.5 274.0 L581.9 274.7 L582.2 275.4 L582.5 276.1 L582.8 276.9 L583.2 277.6 L583.5 278.3 L583.7 279.0 L584.0 279.8 L584.3 280.5 L584.6 281.2 L584.9 282.0 L585.2 282.7 L585.5 283.5 L585.8 284.2 L586.1 284.9 L586.4 285.7 L586.7 286.4 L587.1 287.1 L587.4 287.9 L587.7 288.6 L588.1 289.3 L588.4 290.1 L588.7 290.8 L589.1 291.5 L589.4 292.2 L589.8 293.0 L590.2 293.7 L590.5 294.4 L590.9 295.1 L591.3 295.8 L591.7 296.5 L592.1 297.3 L592.4 298.0 L592.8 298.7 L593.2 299.4 L593.7 300.1 L594.1 300.8 L594.5 301.4 L594.9 302.1 L595.3 302.8 L595.8 303.5 L596.2 304.2 L596.7 304.8 L597.1 305.5 L597.6 306.2 L598.0 306.8 L598.5 307.5 L599.0 308.1 L599.5 308.8 L600.0 309.4 L600.5 310.0 L601.0 310.7 L601.5 311.3 L602.0 311.9 L602.5 312.5 L603.0 313.1 L603.5 313.7 L604.1 314.3 L604.6 314.9 L605.2 315.4 L605.7 316.0 L606.3 316.6 L606.9 317.1 L607.5 317.7 L608.0 318.2 L608.6 318.8 L609.2 319.3 L609.8 319.8 L610.5 320.3 L611.1 320.8 L611.7 321.3 L612.3 321.8 L613.0 322.3 L613.6 322.7 L614.3 323.2 L614.9 323.7 L615.6 324.1 L616.3 324.5 L617.0 325.0 L617.7 325.4 L618.4 325.8 L619.1 326.2 L619.8 326.6 L620.5 326.9 L621.2 327.3 L622.0 327.6 L622.7 328.0 L623.5 328.3 L624.2 328.6 L625.0 328.9 L625.7 329.2 L626.5 329.5 L627.2 329.8 L628.0 330.0 L628.8 330.3 L629.5 330.5 L630.3 330.7 L631.1 330.9 L631.9 331.1 L632.7 331.3 L633.5 331.5 L634.2 331.6 L635.0 331.7 L635.8 331.8 L636.6 331.9 L637.4 332.0 L638.2 332.1 L639.0 332.2 L639.8 332.2 L640.5 332.2 L641.3 332.2 L642.1 332.2 L642.9 332.2 L643.7 332.1 L644.5 332.1 L645.2 332.0 L646.0 331.9 L646.8 331.7 L647.6 331.6 L648.3 331.5 L649.1 331.3 L649.8 331.1 L650.6 330.9 L651.3 330.6 L652.1 330.4 L652.8 330.1 L653.6 329.8 L654.3 329.5 L655.0 329.2 L655.8 328.9 L656.5 328.5 L657.2 328.2 L657.9 327.8 L658.6 327.4 L659.3 327.0 L660.0 326.6 L660.7 326.2 L661.4 325.8 L662.1 325.3 L662.8 324.9 L663.5 324.4 L664.2 324.0 L664.9 323.5 L665.6 323.1 L666.2 322.6 L666.9 322.1 L667.6 321.6 L668.2 321.1 L668.9 320.6 L669.6 320.1 L670.2 319.6 L670.9 319.1 L671.5 318.6 L672.2 318.1 L672.8 317.6 L673.5 317.1 L674.1 316.6 L674.8 316.2 L675.4 315.7 L676.1 315.2 L676.7 314.7 L677.3 314.2 L678.0 313.8 L678.6 313.3 L679.2 312.8 L679.8 312.4 L680.5 311.9 L681.1 311.5 L681.7 311.1 L682.3 310.7 L682.9 310.3" fill="none" stroke="#000" stroke-width="2.2" stroke-linejoin="round"/>
<path d="M27.5 404.6 L28.3 404.6 L29.1 404.6 L29.9 404.5 L30.7 404.5 L31.5 404.5 L32.3 404.5 L33.1 404.5 L33.9 404.4 L34.7 404.4 L35.5 404.4 L36.4 404.4 L37.2 404.4 L38.0 404.4 L38.8 404.4 L39.6 404.4 L40.4 404.4 L41.2 404.3 L42.0 404.3 L42.8 404.3 L43.6 404.3 L44.4 404.3 L45.2 404.3 L46.0 404.3 L46.8 404.3 L47.6 404.3 L48.4 404.3 L49.2 404.3 L50.0 404.3 L50.8 404.3 L51.6 404.3 L52.4 404.3 L53.2 404.3 L54.0 404.4 L54.8 404.4 L55.6 404.4 L56.4 404.4 L57.2 404.4 L58.0 404.4 L58.8 404.4 L59.6 404.4 L60.4 404.4 L61.2 404.4 L62.0 404.4 L62.8 404.4 L63.6 404.4 L64.4 404.4 L65.2 404.5 L66.0 404.5 L66.8 404.5 L67.6 404.5 L68.4 404.5 L69.2 404.5 L69.9 404.5 L70.7 404.5 L71.5 404.5 L72.3 404.5 L73.1 404.5 L73.9 404.5 L74.7 404.5 L75.5 404.5 L76.3 404.5 L77.1 404.6 L77.9 404.6 L78.7 404.6 L79.5 404.6 L80.3 404.6 L81.1 404.6 L81.9 404.6 L82.7 404.6 L83.5 404.6 L84.3 404.6 L85.1 404.6 L85.9 404.6 L86.7 404.6 L87.5 404.5 L88.3 404.5 L89.1 404.5 L89.9 404.5 L90.7 404.5 L91.5 404.5 L92.3 404.5 L93.1 404.5 L93.9 404.5 L94.7 404.5 L95.5 404.4 L96.3 404.4 L97.1 404.4 L97.9 404.4 L98.7 404.4 L99.5 404.3 L100.3 404.3 L101.1 404.3 L101.9 404.3 L102.7 404.2 L103.5 404.2 L104.3 404.2 L105.1 404.1 L105.9 404.1 L106.7 404.1 L107.5 404.0 L108.3 404.0 L109.1 403.9 L109.9 403.9 L110.7 403.8 L111.5 403.8 L112.3 403.7 L113.1 403.7 L113.9 403.6 L114.7 403.6 L115.5 403.5 L116.4 403.5 L117.2 403.4 L118.0 403.3 L118.8 403.3 L119.6 403.2 L120.4 403.1 L121.2 403.1 L122.0 403.0 L122.8 402.9 L123.6 402.8 L124.4 402.7 L125.2 402.6 L126.0 402.5 L126.8 402.4 L127.6 402.3 L128.4 402.2 L129.2 402.1 L130.0 401.9 L130.8 401.8 L131.6 401.6 L132.4 401.5 L133.1 401.3 L133.9 401.1 L134.7 400.9 L135.4 400.7 L136.2 400.5 L137.0 400.3 L137.7 400.1 L138.5 399.8 L139.2 399.5 L139.9 399.3 L140.6 399.0 L141.4 398.7 L142.1 398.3 L142.8 398.0 L143.5 397.6 L144.2 397.3 L144.8 396.9 L145.5 396.5 L146.2 396.0 L146.8 395.6 L147.5 395.1 L148.1 394.7 L148.7 394.2 L149.3 393.7 L150.0 393.1 L150.6 392.6 L151.1 392.0 L151.7 391.5 L152.3 390.9 L152.9 390.3 L153.4 389.7 L153.9 389.1 L154.5 388.5 L155.0 387.8 L155.5 387.2 L156.0 386.6 L156.5 385.9 L157.0 385.2 L157.4 384.6 L157.9 383.9 L158.3 383.2 L158.8 382.5 L159.2 381.8 L159.6 381.1 L160.0 380.4 L160.4 379.7 L160.8 379.0 L161.1 378.3 L161.5 377.6 L161.8 376.9 L162.2 376.1 L162.5 375.4 L162.8 374.7 L163.1 373.9 L163.4 373.2 L163.7 372.5 L164.0 371.7 L164.3 371.0 L164.5 370.2 L164.8 369.5 L165.1 368.7 L165.3 368.0 L165.5 367.2 L165.8 366.5 L166.0 365.7 L166.2 364.9 L166.4 364.2 L166.7 363.4 L166.9 362.6 L167.1 361.9 L167.3 361.1 L167.5 360.3 L167.7 359.6 L167.8 358.8 L168.0 358.0 L168.2 357.2 L168.4 356.4 L168.6 355.7 L168.7 354.9 L168.9 354.1 L169.1 353.3 L169.3 352.5 L169.4 351.8 L169.6 351.0 L169.8 350.2 L169.9 349.4 L170.1 348.6 L170.3 347.9 L170.4 347.1 L170.6 346.3 L170.8 345.5 L170.9 344.7 L171.1 343.9 L171.3 343.2 L171.5 342.4 L171.6 341.6 L171.8 340.8 L172.0 340.0 L172.1 339.2 L172.3 338.5 L172.5 337.7 L172.7 336.9 L172.8 336.1 L173.0 335.3 L173.2 334.6 L173.4 333.8 L173.5 333.0 L173.7 332.2 L173.9 331.4 L174.1 330.6 L174.2 329.9 L174.4 329.1 L174.6 328.3 L174.8 327.5 L174.9 326.7 L175.1 326.0 L175.3 325.2 L175.5 324.4 L175.7 323.6 L175.9 322.8 L176.0 322.1 L176.2 321.3 L176.4 320.5 L176.6 319.7 L176.8 318.9 L177.0 318.2 L177.2 317.4 L177.3 316.6 L177.5 315.8 L177.7 315.0 L177.9 314.3 L178.1 313.5 L178.3 312.7 L178.5 311.9 L178.7 311.1 L178.9 310.4 L179.1 309.6 L179.3 308.8 L179.5 308.0 L179.7 307.2 L179.9 306.5 L180.1 305.7 L180.3 304.9 L180.5 304.1 L180.7 303.4 L180.9 302.6 L181.1 301.8 L181.4 301.0 L181.6 300.3 L181.8 299.5 L182.0 298.7 L182.2 298.0 L182.5 297.2 L182.7 296.4 L182.9 295.7 L183.2 294.9 L183.4 294.1 L183.6 293.4 L183.9 292.6 L184.1 291.8 L184.4 291.1 L184.6 290.3 L184.9 289.6 L185.1 288.8 L185.4 288.1 L185.7 287.3 L185.9 286.6 L186.2 285.8 L186.5 285.1 L186.8 284.4 L187.0 283.6 L187.3 282.9 L187.6 282.1 L187.9 281.4 L188.2 280.7 L188.5 280.0 L188.8 279.2 L189.1 278.5 L189.5 277.8 L189.8 277.0 L190.1 276.3 L190.4 275.6 L190.7 274.8 L191.0 274.1 L191.3 273.4 L191.6 272.6 L191.9 271.9 L192.2 271.1 L192.5 270.4 L192.8 269.6 L193.1 268.9 L193.4 268.1 L193.6 267.3 L193.9 266.6 L194.2 265.8 L194.4 265.0 L194.7 264.2 L194.9 263.4 L195.2 262.6 L195.4 261.8 L195.7 261.0 L196.0 260.2 L196.3 259.5 L196.6 258.8 L197.0 258.1 L197.3 257.4 L197.8 256.7 L198.2 256.1 L198.7 255.6 L199.2 255.1 L199.8 254.6 L200.5 254.2 L201.2 253.8 L201.9 253.5 L202.6 253.2 L203.4 252.9 L204.2 252.6 L205.0 252.4 L205.9 252.1 L206.7 251.9 L207.5 251.6 L208.3 251.4 L209.0 251.1 L209.8 250.7 L210.5 250.4 L211.1 250.0 L211.8 249.5 L212.4 249.1 L213.0 248.6 L213.5 248.1 L214.0 247.5 L214.5 246.9 L215.0 246.3 L215.4 245.7 L215.9 245.1 L216.3 244.4 L216.6 243.7 L217.0 243.0 L217.3 242.3 L217.7 241.6 L218.0 240.8 L218.3 240.1 L218.6 239.3 L218.8 238.5 L219.1 237.8 L219.3 237.0 L219.6 236.2 L219.8 235.4 L220.1 234.6 L220.3 233.8 L220.5 233.0 L220.7 232.2 L220.9 231.4 L221.2 230.6 L221.4 229.8 L221.6 229.0 L221.8 228.2 L222.0 227.4 L222.2 226.6 L222.4 225.8 L222.6 225.0 L222.8 224.2 L223.0 223.5 L223.2 222.7 L223.3 221.9 L223.5 221.1 L223.7 220.3 L223.9 219.5 L224.1 218.7 L224.2 217.9 L224.4 217.2 L224.6 216.4 L224.7 215.6 L224.9 214.8 L225.1 214.0 L225.2 213.2 L225.4 212.5 L225.5 211.7 L225.7 210.9 L225.9 210.1 L226.0 209.3 L226.2 208.5 L226.3 207.8 L226.5 207.0 L226.6 206.2 L226.7 205.4 L226.9 204.6 L227.0 203.9 L227.2 203.1 L227.3 202.3 L227.4 201.5 L227.6 200.7 L227.7 200.0 L227.8 199.2 L228.0 198.4 L228.1 197.6 L228.2 196.8 L228.4 196.0 L228.5 195.3 L228.6 194.5 L228.7 193.7 L228.9 192.9 L229.0 192.1 L229.1 191.4 L229.2 190.6 L229.4 189.8 L229.5 189.0 L229.6 188.2 L229.7 187.5 L229.8 186.7 L230.0 185.9 L230.1 185.1 L230.2 184.3 L230.3 183.5 L230.4 182.8 L230.5 182.0 L230.7 181.2 L230.8 180.4 L230.9 179.6 L231.0 178.8 L231.1 178.0 L231.2 177.2 L231.4 176.5 L231.5 175.7 L231.6 174.9 L231.7 174.1 L231.8 173.3 L231.9 172.5 L232.1 171.7 L232.2 170.9 L232.3 170.1 L232.4 169.3 L232.5 168.6 L232.6 167.8 L232.7 167.0 L232.9 166.2 L233.0 165.4 L233.1 164.6 L233.2 163.8 L233.3 163.0 L233.4 162.2 L233.5 161.4 L233.7 160.6 L233.8 159.8 L233.9 159.0 L234.0 158.2 L234.1 157.4 L234.2 156.6 L234.3 155.8 L234.5 155.0 L234.6 154.2 L234.7 153.4 L234.8 152.6 L234.9 151.8 L235.0 151.0 L235.1 150.2 L235.2 149.5 L235.3 148.7 L235.5 147.9 L235.6 147.1 L235.7 146.3 L235.8 145.5 L235.9 144.7 L236.0 143.9 L236.1 143.1 L236.2 142.3 L236.3 141.5 L236.4 140.7 L236.5 139.9 L236.6 139.1 L236.7 138.3 L236.9 137.5 L237.0 136.7 L237.1 135.9 L237.2 135.1 L237.3 134.3 L237.4 133.5 L237.5 132.7 L237.6 131.9 L237.7 131.1 L237.8 130.3 L237.9 129.5 L238.0 128.7 L238.1 127.9 L238.2 127.1 L238.3 126.3 L238.4 125.5 L238.5 124.7 L238.6 123.9 L238.7 123.1 L238.8 122.3 L238.9 121.5 L239.0 120.7 L239.1 119.9 L239.2 119.1 L239.3 118.3 L239.4 117.5 L239.5 116.7 L239.6 115.9 L239.7 115.1 L239.8 114.3 L239.9 113.5 L240.0 112.8 L240.1 112.0 L240.2 111.2 L240.2 110.4 L240.3 109.6 L240.4 108.8 L240.5 108.0 L240.6 107.2 L240.7 106.4 L240.8 105.6 L240.9 104.8 L241.0 104.0 L241.1 103.2 L241.2 102.5 L241.2 101.7 L241.3 100.9 L241.4 100.1 L241.5 99.3 L241.6 98.5 L241.7 97.7 L241.8 96.9 L241.8 96.2 L241.9 95.4 L242.0 94.6 L242.1 93.8 L242.2 93.0 L242.2 92.2 L242.3 91.5 L242.4 90.7 L242.5 89.9 L242.6 89.1 L242.6 88.3 L242.7 87.6 L242.8 86.8 L242.9 86.0 L243.0 85.2 L243.1 84.4 L243.1 83.7 L243.3 82.9 L243.4 82.1 L243.5 81.3 L243.6 80.5 L243.8 79.7 L244.0 78.9 L244.2 78.1 L244.4 77.3 L244.6 76.5 L244.8 75.7 L245.1 74.9 L245.4 74.1 L245.8 73.2 L246.1 72.4 L246.5 71.6 L246.9 70.7 L247.4 69.9 L247.8 69.3 L248.3 68.8 L248.7 68.5 L249.2 68.6 L249.6 68.9 L250.0 69.4 L250.3 70.1 L250.7 70.9 L251.0 71.8 L251.3 72.6 L251.6 73.5 L251.8 74.3 L252.1 75.1 L252.3 75.9 L252.6 76.7 L252.8 77.5 L253.0 78.3 L253.2 79.1 L253.3 79.9 L253.5 80.7 L253.7 81.5 L253.8 82.3 L254.0 83.1 L254.1 83.9 L254.3 84.7 L254.4 85.4 L254.5 86.2 L254.7 87.0 L254.8 87.8 L254.9 88.5 L255.0 89.3 L255.2 90.1 L255.3 90.9 L255.4 91.7 L255.5 92.4 L255.7 93.2 L255.8 94.0 L255.9 94.8 L256.1 95.6 L256.2 96.3 L256.3 97.1 L256.4 97.9 L256.6 98.7 L256.7 99.5 L256.8 100.3 L257.0 101.0 L257.1 101.8 L257.2 102.6 L257.3 103.4 L257.5 104.2 L257.6 105.0 L257.7 105.7 L257.9 106.5 L258.0 107.3 L258.1 108.1 L258.2 108.9 L258.4 109.7 L258.5 110.5 L258.6 111.2 L258.8 112.0 L258.9 112.8 L259.0 113.6 L259.1 114.4 L259.3 115.2 L259.4 116.0 L259.5 116.8 L259.7 117.5 L259.8 118.3 L259.9 119.1 L260.1 119.9 L260.2 120.7 L260.3 121.5 L260.4 122.3 L260.6 123.1 L260.7 123.9 L260.8 124.7 L261.0 125.4 L261.1 126.2 L261.2 127.0 L261.4 127.8 L261.5 128.6 L261.6 129.4 L261.7 130.2 L261.9 131.0 L262.0 131.8 L262.1 132.6 L262.3 133.4 L262.4 134.1 L262.5 134.9 L262.6 135.7 L262.8 136.5 L262.9 137.3 L263.0 138.1 L263.2 138.9 L263.3 139.7 L263.4 140.5 L263.6 141.3 L263.7 142.1 L263.8 142.9 L263.9 143.7 L264.1 144.4 L264.2 145.2 L264.3 146.0 L264.5 146.8 L264.6 147.6 L264.7 148.4 L264.8 149.2 L265.0 150.0 L265.1 150.8 L265.2 151.6 L265.4 152.4 L265.5 153.2 L265.6 154.0 L265.7 154.8 L265.9 155.6 L266.0 156.3 L266.1 157.1 L266.3 157.9 L266.4 158.7 L266.5 159.5 L266.6 160.3 L266.8 161.1 L266.9 161.9 L267.0 162.7 L267.2 163.5 L267.3 164.3 L267.4 165.1 L267.5 165.9 L267.7 166.7 L267.8 167.5 L267.9 168.2 L268.0 169.0 L268.2 169.8 L268.3 170.6 L268.4 171.4 L268.6 172.2 L268.7 173.0 L268.8 173.8 L268.9 174.6 L269.1 175.4 L269.2 176.2 L269.3 177.0 L269.4 177.8 L269.6 178.5 L269.7 179.3 L269.8 180.1 L269.9 180.9 L270.1 181.7 L270.2 182.5 L270.3 183.3 L270.4 184.1 L270.6 184.9 L270.7 185.7 L270.8 186.5 L270.9 187.2 L271.1 188.0 L271.2 188.8 L271.3 189.6 L271.4 190.4 L271.6 191.2 L271.7 192.0 L271.8 192.8 L271.9 193.6 L272.1 194.4 L272.2 195.1 L272.3 195.9 L272.5 196.7 L272.6 197.5 L272.7 198.3 L272.8 199.1 L273.0 199.9 L273.1 200.7 L273.2 201.4 L273.4 202.2 L273.5 203.0 L273.6 203.8 L273.8 204.6 L273.9 205.4 L274.0 206.2 L274.2 207.0 L274.3 207.7 L274.4 208.5 L274.6 209.3 L274.7 210.1 L274.9 210.9 L275.0 211.7 L275.1 212.5 L275.3 213.3 L275.4 214.0 L275.6 214.8 L275.7 215.6 L275.9 216.4 L276.0 217.2 L276.2 218.0 L276.3 218.7 L276.5 219.5 L276.6 220.3 L276.8 221.1 L276.9 221.9 L277.1 222.7 L277.2 223.5 L277.4 224.2 L277.6 225.0 L277.7 225.8 L277.9 226.6 L278.0 227.4 L278.2 228.2 L278.4 228.9 L278.5 229.7 L278.7 230.5 L278.9 231.3 L279.1 232.1 L279.2 232.9 L279.4 233.6 L279.6 234.4 L279.8 235.2 L279.9 236.0 L280.1 236.8 L280.3 237.5 L280.5 238.3 L280.7 239.1 L280.9 239.9 L281.1 240.7 L281.3 241.4 L281.5 242.2 L281.7 243.0 L281.9 243.8 L282.1 244.5 L282.3 245.3 L282.5 246.1 L282.7 246.9 L282.9 247.6 L283.1 248.4 L283.3 249.2 L283.5 250.0 L283.7 250.7 L283.9 251.5 L284.2 252.3 L284.4 253.0 L284.6 253.8 L284.8 254.6 L285.1 255.4 L285.3 256.1 L285.5 256.9 L285.8 257.7 L286.0 258.4 L286.2 259.2 L286.5 260.0 L286.7 260.7 L287.0 261.5 L287.2 262.3 L287.5 263.0 L287.7 263.8 L288.0 264.5 L288.2 265.3 L288.5 266.1 L288.8 266.8 L289.0 267.6 L289.3 268.3 L289.6 269.1 L289.8 269.8 L290.1 270.6 L290.4 271.3 L290.7 272.1 L291.0 272.8 L291.3 273.6 L291.6 274.3 L291.9 275.0 L292.2 275.8 L292.6 276.5 L293.0 277.2 L293.3 277.9 L293.7 278.6 L294.1 279.3 L294.5 280.0 L295.0 280.6 L295.4 281.3 L295.9 281.9 L296.4 282.6 L296.9 283.2 L297.4 283.8 L298.0 284.4 L298.6 285.0 L299.2 285.6 L299.8 286.1 L300.5 286.7 L301.1 287.2 L301.8 287.6 L302.5 288.0 L303.2 288.2 L303.9 288.4 L304.6 288.4 L305.3 288.3 L306.0 288.1 L306.6 287.8 L307.3 287.4 L307.9 286.9 L308.5 286.3 L309.1 285.7 L309.7 285.0 L310.3 284.3 L310.9 283.6 L311.4 282.9 L311.9 282.2 L312.4 281.5 L312.9 280.7 L313.4 280.0 L313.9 279.3 L314.3 278.6 L314.8 277.9 L315.2 277.2 L315.6 276.5 L316.0 275.8 L316.4 275.1 L316.7 274.4 L317.1 273.7 L317.5 273.0 L317.8 272.3 L318.2 271.6 L318.5 270.8 L318.8 270.1 L319.1 269.4 L319.4 268.7 L319.8 268.0 L320.1 267.3 L320.4 266.6 L320.7 265.9 L321.0 265.1 L321.3 264.4 L321.6 263.7 L321.8 262.9 L322.1 262.2 L322.4 261.5 L322.7 260.7 L323.0 260.0 L323.3 259.2 L323.6 258.5 L323.9 257.8 L324.2 257.0 L324.6 256.3 L324.9 255.6 L325.2 254.8 L325.5 254.1 L325.9 253.4 L326.2 252.6 L326.6 251.9 L326.9 251.2 L327.3 250.5 L327.7 249.8 L328.0 249.1 L328.4 248.4 L328.8 247.7 L329.3 247.0 L329.7 246.3 L330.1 245.7 L330.6 245.0 L331.0 244.4 L331.5 243.7 L332.0 243.1 L332.5 242.4 L333.0 241.8 L333.5 241.2 L334.0 240.6 L334.6 240.0 L335.1 239.4 L335.7 238.8 L336.2 238.2 L336.7 237.6 L337.3 237.0 L337.8 236.4 L338.4 235.8 L338.9 235.2 L339.5 234.6 L340.0 234.0 L340.5 233.4 L341.1 232.8 L341.6 232.2 L342.1 231.5 L342.6 230.9 L343.1 230.3 L343.6 229.7 L344.1 229.0 L344.6 228.4 L345.1 227.8 L345.6 227.1 L346.0 226.5 L346.5 225.9 L347.0 225.2 L347.4 224.6 L347.9 223.9 L348.3 223.2 L348.8 222.6 L349.2 221.9 L349.6 221.3 L350.1 220.6 L350.5 219.9 L350.9 219.3 L351.3 218.6 L351.8 217.9 L352.2 217.2 L352.6 216.5 L353.0 215.8 L353.4 215.2 L353.7 214.5 L354.1 213.8 L354.5 213.1 L354.9 212.4 L355.3 211.7 L355.6 211.0 L356.0 210.3 L356.4 209.6 L356.7 208.8 L357.1 208.1 L357.4 207.4 L357.8 206.7 L358.1 206.0 L358.5 205.3 L358.8 204.5 L359.1 203.8 L359.5 203.1 L359.8 202.4 L360.1 201.6 L360.5 200.9 L360.8 200.2 L361.1 199.4 L361.4 198.7 L361.7 198.0 L362.0 197.2 L362.3 196.5 L362.6 195.7 L362.9 195.0 L363.2 194.3 L363.5 193.5 L363.8 192.8 L364.1 192.0 L364.4 191.3 L364.7 190.5 L365.0 189.8 L365.2 189.0 L365.5 188.2 L365.8 187.5 L366.1 186.7 L366.3 186.0 L366.6 185.2 L366.9 184.5 L367.1 183.7 L367.4 182.9 L367.7 182.2 L367.9 181.4 L368.2 180.6 L368.4 179.9 L368.7 179.1 L368.9 178.3 L369.2 177.6 L369.4 176.8 L369.7 176.0 L369.9 175.3 L370.2 174.5 L370.4 173.7 L370.7 173.0 L370.9 172.2 L371.2 171.4 L371.4 170.6 L371.6 169.9 L371.9 169.1 L372.1 168.3 L372.4 167.6 L372.6 166.8 L372.8 166.0 L373.1 165.2 L373.3 164.5 L373.5 163.7 L373.8 162.9 L374.0 162.2 L374.3 161.4 L374.5 160.6 L374.7 159.8 L375.0 159.1 L375.2 158.3 L375.4 157.5 L375.7 156.8 L375.9 156.0 L376.1 155.2 L376.4 154.5 L376.6 153.7 L376.8 152.9 L377.1 152.2 L377.3 151.4 L377.5 150.6 L377.8 149.9 L378.0 149.1 L378.2 148.3 L378.5 147.6 L378.7 146.8 L379.0 146.0 L379.2 145.3 L379.4 144.5 L379.7 143.8 L379.9 143.0 L380.2 142.3 L380.4 141.5 L380.7 140.7 L380.9 140.0 L381.2 139.2 L381.4 138.5 L381.6 137.7 L381.9 137.0 L382.1 136.2 L382.4 135.5 L382.7 134.7 L382.9 134.0 L383.2 133.2 L383.4 132.5 L383.7 131.7 L383.9 131.0 L384.2 130.2 L384.4 129.5 L384.7 128.7 L385.0 128.0 L385.2 127.2 L385.5 126.5 L385.8 125.7 L386.0 125.0 L386.3 124.2 L386.6 123.5 L386.8 122.8 L387.1 122.0 L387.4 121.3 L387.6 120.5 L387.9 119.8 L388.2 119.0 L388.5 118.3 L388.7 117.5 L389.0 116.8 L389.3 116.1 L389.6 115.3 L389.9 114.6 L390.1 113.8 L390.4 113.1 L390.7 112.3 L391.0 111.6 L391.4 110.8 L391.7 110.1 L392.0 109.3 L392.4 108.6 L392.8 107.8 L393.2 107.1 L393.6 106.3 L394.1 105.6 L394.6 104.8 L395.1 104.1 L395.6 103.4 L396.2 102.9 L396.8 102.4 L397.4 102.1 L398.0 102.0 L398.7 102.1 L399.4 102.3 L400.1 102.7 L400.8 103.2 L401.4 103.8 L402.1 104.4 L402.6 105.1 L403.2 105.8 L403.7 106.5 L404.1 107.3 L404.5 108.0 L404.9 108.7 L405.2 109.5 L405.5 110.2 L405.8 111.0 L406.0 111.7 L406.2 112.5 L406.4 113.3 L406.6 114.0 L406.8 114.8 L407.0 115.6 L407.2 116.4 L407.4 117.1 L407.6 117.9 L407.7 118.7 L407.9 119.5 L408.1 120.2 L408.3 121.0 L408.5 121.8 L408.6 122.6 L408.8 123.3 L409.0 124.1 L409.1 124.9 L409.3 125.7 L409.5 126.5 L409.6 127.2 L409.8 128.0 L410.0 128.8 L410.1 129.6 L410.3 130.4 L410.4 131.2 L410.6 131.9 L410.7 132.7 L410.9 133.5 L411.1 134.3 L411.2 135.1 L411.4 135.9 L411.5 136.6 L411.7 137.4 L411.8 138.2 L412.0 139.0 L412.1 139.8 L412.3 140.6 L412.4 141.4 L412.6 142.1 L412.7 142.9 L412.8 143.7 L413.0 144.5 L413.1 145.3 L413.3 146.1 L413.4 146.9 L413.6 147.7 L413.7 148.4 L413.8 149.2 L414.0 150.0 L414.1 150.8 L414.3 151.6 L414.4 152.4 L414.5 153.2 L414.7 154.0 L414.8 154.7 L415.0 155.5 L415.1 156.3 L415.2 157.1 L415.4 157.9 L415.5 158.7 L415.7 159.5 L415.8 160.3 L415.9 161.1 L416.1 161.8 L416.2 162.6 L416.4 163.4 L416.5 164.2 L416.6 165.0 L416.8 165.8 L416.9 166.6 L417.1 167.4 L417.2 168.2 L417.3 169.0 L417.5 169.7 L417.6 170.5 L417.8 171.3 L417.9 172.1 L418.0 172.9 L418.2 173.7 L418.3 174.5 L418.5 175.3 L418.6 176.1 L418.7 176.8 L418.9 177.6 L419.0 178.4 L419.2 179.2 L419.3 180.0 L419.4 180.8 L419.6 181.6 L419.7 182.4 L419.9 183.2 L420.0 183.9 L420.2 184.7 L420.3 185.5 L420.5 186.3 L420.6 187.1 L420.7 187.9 L420.9 188.7 L421.0 189.5 L421.2 190.3 L421.3 191.0 L421.5 191.8 L421.6 192.6 L421.8 193.4 L421.9 194.2 L422.1 195.0 L422.2 195.8 L422.4 196.6 L422.5 197.3 L422.7 198.1 L422.8 198.9 L423.0 199.7 L423.2 200.5 L423.3 201.3 L423.5 202.1 L423.6 202.8 L423.8 203.6 L423.9 204.4 L424.1 205.2 L424.3 206.0 L424.4 206.8 L424.6 207.5 L424.7 208.3 L424.9 209.1 L425.1 209.9 L425.2 210.7 L425.4 211.5 L425.6 212.3 L425.7 213.0 L425.9 213.8 L426.1 214.6 L426.3 215.4 L426.4 216.2 L426.6 216.9 L426.8 217.7 L426.9 218.5 L427.1 219.3 L427.3 220.1 L427.5 220.8 L427.7 221.6 L427.8 222.4 L428.0 223.2 L428.2 224.0 L428.4 224.7 L428.6 225.5 L428.8 226.3 L428.9 227.1 L429.1 227.9 L429.3 228.6 L429.5 229.4 L429.7 230.2 L429.9 231.0 L430.1 231.7 L430.3 232.5 L430.5 233.3 L430.7 234.1 L430.9 234.8 L431.1 235.6 L431.3 236.4 L431.5 237.2 L431.7 237.9 L431.9 238.7 L432.1 239.5 L432.3 240.2 L432.5 241.0 L432.8 241.8 L433.0 242.6 L433.2 243.3 L433.4 244.1 L433.6 244.9 L433.9 245.6 L434.1 246.4 L434.3 247.2 L434.5 247.9 L434.8 248.7 L435.0 249.5 L435.2 250.2 L435.4 251.0 L435.7 251.8 L435.9 252.5 L436.2 253.3 L436.4 254.1 L436.6 254.8 L436.9 255.6 L437.1 256.3 L437.4 257.1 L437.6 257.9 L437.9 258.6 L438.1 259.4 L438.4 260.1 L438.6 260.9 L438.9 261.7 L439.2 262.4 L439.4 263.2 L439.7 263.9 L439.9 264.7 L440.2 265.5 L440.5 266.2 L440.8 267.0 L441.0 267.7 L441.3 268.5 L441.6 269.2 L441.9 270.0 L442.1 270.7 L442.4 271.5 L442.7 272.2 L443.0 273.0 L443.3 273.7 L443.6 274.5 L443.9 275.2 L444.2 275.9 L444.5 276.7 L444.9 277.4 L445.2 278.1 L445.5 278.9 L445.8 279.6 L446.2 280.3 L446.5 281.1 L446.8 281.8 L447.2 282.5 L447.5 283.2 L447.9 283.9 L448.3 284.6 L448.6 285.3 L449.0 286.0 L449.4 286.8 L449.8 287.4 L450.2 288.1 L450.6 288.8 L451.0 289.5 L451.4 290.2 L451.8 290.9 L452.2 291.6 L452.7 292.2 L453.1 292.9 L453.5 293.6 L454.0 294.2 L454.4 294.9 L454.9 295.5 L455.4 296.2 L455.9 296.8 L456.4 297.5 L456.9 298.1 L457.4 298.7 L457.9 299.4 L458.4 300.0 L458.9 300.6 L459.4 301.2 L460.0 301.8 L460.5 302.4 L461.1 303.0 L461.6 303.6 L462.2 304.2 L462.7 304.8 L463.3 305.3 L463.9 305.9 L464.4 306.5 L465.0 307.0 L465.6 307.6 L466.2 308.1 L466.7 308.6 L467.3 309.2 L467.9 309.7 L468.5 310.2 L469.1 310.7 L469.7 311.2 L470.3 311.7 L471.0 312.1 L471.6 312.6 L472.3 313.0 L473.0 313.4 L473.7 313.8 L474.4 314.1 L475.2 314.5 L476.0 314.8 L476.8 315.1 L477.6 315.3 L478.4 315.5 L479.2 315.6 L480.0 315.6 L480.8 315.5 L481.5 315.2 L482.2 314.8 L482.9 314.4 L483.6 313.9 L484.1 313.3 L484.7 312.7 L485.2 312.1 L485.7 311.5 L486.1 310.8 L486.5 310.1 L486.9 309.4 L487.2 308.7 L487.5 308.0 L487.8 307.3 L488.1 306.5 L488.3 305.8 L488.6 305.0 L488.8 304.2 L489.0 303.4 L489.2 302.7 L489.4 301.9 L489.6 301.1 L489.8 300.3 L490.0 299.5 L490.2 298.7 L490.3 297.9 L490.5 297.2 L490.7 296.4 L490.9 295.6 L491.0 294.8 L491.2 294.0 L491.4 293.2 L491.5 292.4 L491.7 291.6 L491.8 290.8 L492.0 290.1 L492.1 289.3 L492.3 288.5 L492.4 287.7 L492.6 286.9 L492.7 286.1 L492.8 285.3 L493.0 284.5 L493.1 283.7 L493.3 282.9 L493.4 282.1 L493.5 281.4 L493.7 280.6 L493.8 279.8 L493.9 279.0 L494.1 278.2 L494.2 277.4 L494.3 276.6 L494.4 275.8 L494.6 275.1 L494.7 274.3 L494.8 273.5 L495.0 272.7 L495.1 271.9 L495.2 271.2 L495.4 270.4 L495.5 269.6 L495.7 268.8 L495.8 268.1 L495.9 267.3 L496.1 266.5 L496.2 265.7 L496.4 265.0 L496.6 264.2 L496.7 263.4 L496.9 262.6 L497.1 261.9 L497.3 261.1 L497.5 260.3 L497.7 259.6 L497.9 258.8 L498.2 258.0 L498.4 257.2 L498.7 256.4 L499.0 255.7 L499.2 254.9 L499.5 254.1 L499.9 253.3 L500.2 252.5 L500.5 251.7 L500.9 250.9 L501.3 250.2 L501.7 249.4 L502.1 248.6 L502.6 248.0 L503.1 247.6 L503.6 247.4 L504.2 247.4 L504.9 247.7 L505.6 248.2 L506.3 248.8 L507.0 249.4 L507.7 250.0 L508.3 250.5 L509.0 251.1 L509.6 251.6 L510.2 252.1 L510.9 252.5 L511.5 253.0 L512.2 253.4 L512.8 253.7 L513.5 254.1 L514.1 254.4 L514.8 254.7 L515.5 255.0 L516.3 255.3 L517.0 255.5 L517.8 255.8 L518.6 256.0 L519.4 256.2 L520.2 256.5 L520.9 256.7 L521.7 257.0 L522.5 257.3 L523.2 257.7 L523.9 258.0 L524.6 258.5 L525.2 258.9 L525.8 259.4 L526.4 260.0 L526.9 260.6 L527.4 261.2 L527.9 261.8 L528.4 262.5 L528.9 263.2 L529.3 263.8 L529.7 264.6 L530.1 265.3 L530.6 266.0 L531.0 266.7 L531.4 267.4 L531.8 268.1 L532.2 268.8 L532.6 269.4 L533.0 270.1 L533.4 270.7 L533.8 271.4 L534.3 272.0 L534.7 272.6 L535.2 273.3 L535.7 273.9 L536.2 274.6 L536.7 275.3 L537.2 276.0 L537.8 276.7 L538.4 277.4 L539.0 278.0 L539.6 278.5 L540.2 278.9 L540.9 279.2 L541.6 279.3 L542.3 279.2 L543.0 279.1 L543.7 278.8 L544.4 278.4 L545.1 277.9 L545.7 277.4 L546.4 276.8 L547.0 276.1 L547.6 275.4 L548.1 274.8 L548.6 274.1 L549.0 273.4 L549.5 272.7 L549.9 272.0 L550.2 271.4 L550.6 270.7 L550.9 270.0 L551.2 269.3 L551.6 268.6 L551.9 267.9 L552.3 267.2 L552.6 266.5 L553.0 265.8 L553.4 265.1 L553.9 264.4 L554.4 263.7 L554.9 263.0 L555.4 262.4 L556.0 261.7 L556.6 261.1 L557.3 260.6 L558.0 260.0 L558.6 259.6 L559.3 259.2 L560.1 258.9 L560.8 258.7 L561.5 258.6 L562.3 258.6 L563.0 258.7 L563.7 258.9 L564.5 259.2 L565.2 259.5 L566.0 259.9 L566.7 260.3 L567.4 260.8 L568.2 261.2 L568.9 261.7 L569.6 262.2 L570.3 262.6 L571.0 263.1 L571.7 263.5 L572.4 264.0 L573.0 264.5 L573.7 264.9 L574.3 265.4 L574.9 265.9 L575.5 266.4 L576.1 266.9 L576.7 267.4 L577.3 268.0 L577.8 268.5 L578.4 269.1 L578.9 269.7 L579.4 270.3 L579.9 270.9 L580.3 271.5 L580.8 272.2 L581.3 272.8 L581.7 273.5 L582.1 274.1 L582.6 274.8 L583.0 275.5 L583.4 276.2 L583.8 276.9 L584.2 277.6 L584.6 278.3 L585.0 279.0 L585.4 279.7 L585.8 280.4 L586.2 281.1 L586.5 281.8 L586.9 282.6 L587.3 283.3 L587.7 284.0 L588.1 284.7 L588.5 285.4 L588.8 286.1 L589.2 286.9 L589.6 287.6 L590.0 288.3 L590.5 289.0 L590.9 289.7 L591.3 290.3 L591.7 291.0 L592.2 291.7 L592.6 292.4 L593.1 293.0 L593.5 293.7 L594.0 294.3 L594.5 294.9 L595.0 295.6 L595.4 296.2 L595.9 296.8 L596.4 297.4 L596.9 298.1 L597.5 298.7 L598.0 299.3 L598.5 299.9 L599.0 300.5 L599.6 301.0 L600.1 301.6 L600.7 302.2 L601.2 302.8 L601.8 303.4 L602.3 303.9 L602.9 304.5 L603.5 305.1 L604.0 305.6 L604.6 306.2 L605.2 306.7 L605.8 307.3 L606.4 307.8 L607.0 308.4 L607.6 308.9 L608.2 309.5 L608.8 310.0 L609.4 310.6 L610.0 311.1 L610.6 311.6 L611.2 312.2 L611.8 312.7 L612.5 313.1 L613.1 313.6 L613.8 314.1 L614.5 314.5 L615.1 314.9 L615.9 315.2 L616.6 315.6 L617.3 315.9 L618.1 316.1 L618.8 316.4 L619.6 316.6 L620.4 316.7 L621.2 316.8 L622.0 317.0 L622.8 317.0 L623.7 317.1 L624.5 317.1 L625.3 317.1 L626.1 317.0 L626.9 317.0 L627.7 316.9 L628.5 316.8 L629.3 316.8 L630.1 316.7 L630.9 316.7 L631.7 316.6 L632.5 316.6 L633.2 316.7 L634.0 316.7 L634.8 316.8 L635.6 316.9 L636.4 317.1 L637.2 317.2 L638.0 317.4 L638.7 317.6 L639.5 317.8 L640.3 318.0 L641.1 318.1 L641.9 318.3 L642.7 318.5 L643.5 318.6 L644.3 318.8 L645.0 318.9 L645.8 319.0 L646.6 319.1 L647.4 319.2 L648.2 319.3 L649.0 319.4 L649.8 319.4 L650.6 319.5 L651.4 319.5 L652.2 319.6 L653.0 319.6 L653.8 319.6 L654.6 319.6 L655.4 319.6 L656.2 319.6 L657.0 319.6 L657.8 319.6 L658.6 319.5 L659.4 319.5 L660.2 319.4 L661.0 319.3 L661.8 319.3 L662.6 319.2 L663.4 319.1 L664.2 319.0 L665.0 318.9 L665.8 318.8 L666.6 318.7 L667.4 318.5 L668.2 318.4 L669.0 318.2 L669.7 318.1 L670.5 317.9 L671.3 317.8 L672.1 317.6 L672.9 317.5 L673.7 317.3 L674.4 317.1 L675.2 316.9 L676.0 316.8 L676.8 316.6 L677.6 316.4 L678.3 316.2 L679.1 316.0 L679.9 315.8 L680.7 315.6 L681.5 315.4 L682.2 315.2 L683.0 315.0" fill="none" stroke="#ff3636" stroke-width="1.1" stroke-linejoin="round"/>
<g fill="#111" stroke-linejoin="miter"><line x1="150" y1="403" x2="186.5" y2="403" stroke="#c6c6c6" stroke-width="1.8"/><line x1="231.3" y1="403" x2="267" y2="403" stroke="#c6c6c6" stroke-width="1.8"/><path d="M146.0 403.0 L152.3 399.7 L150.5 403.0 L152.3 406.3 Z" stroke="#111" stroke-width="0.7"/><path d="M271.6 403.0 L265.3 399.7 L267.1 403.0 L265.3 406.3 Z" stroke="#111" stroke-width="0.7"/><text transform="matrix(1 0 0 1.04 192.5 408.9)" font-size="17"><tspan letter-spacing="0.55">V-L</tspan><tspan font-size="12.2" dy="5">3</tspan></text><line x1="311" y1="402.5" x2="347.8" y2="402.5" stroke="#8c8c8c" stroke-width="1.2"/><line x1="392.5" y1="402.5" x2="429" y2="402.5" stroke="#8c8c8c" stroke-width="1.2"/><path d="M307.4 402.5 L313.7 399.2 L311.9 402.5 L313.7 405.8 Z" stroke="#111" stroke-width="0.7"/><path d="M432.9 402.5 L426.6 399.2 L428.4 402.5 L426.6 405.8 Z" stroke="#111" stroke-width="0.7"/><text transform="matrix(1 0 0 1.04 354.8 408.6)" font-size="17"><tspan letter-spacing="0.55">V-L</tspan><tspan font-size="12.2" dy="5">2</tspan></text><line x1="471" y1="402.5" x2="494.8" y2="402.5" stroke="#808080" stroke-width="1.2"/><line x1="494.8" y1="402.8" x2="518.6" y2="402.8" stroke="#c0c0c0" stroke-width="1.4"/><line x1="555.8" y1="402.5" x2="570.6" y2="402.5" stroke="#808080" stroke-width="1.2"/><line x1="570.6" y1="402.8" x2="602" y2="402.8" stroke="#c0c0c0" stroke-width="1.4"/><path d="M467.4 402.6 L473.7 399.3 L471.9 402.6 L473.7 405.9 Z" stroke="#111" stroke-width="0.7"/><path d="M606.2 402.6 L599.9 399.3 L601.7 402.6 L599.9 405.9 Z" stroke="#111" stroke-width="0.7"/><text transform="matrix(1 0 0 1.04 522.3 408.6)" font-size="17" letter-spacing="0.4">O-K</text></g>
<g stroke="#000" stroke-width="2" fill="none">
<rect x="26.7" y="1" width="657.3" height="437.2"/>
<line x1="28.81" y1="438.2" x2="28.81" y2="435.70"/><line x1="28.81" y1="1" x2="28.81" y2="3.50"/><line x1="85.10" y1="438.2" x2="85.10" y2="432.70"/><line x1="85.10" y1="1" x2="85.10" y2="6.50"/><line x1="141.39" y1="438.2" x2="141.39" y2="435.70"/><line x1="141.39" y1="1" x2="141.39" y2="3.50"/><line x1="197.68" y1="438.2" x2="197.68" y2="432.70"/><line x1="197.68" y1="1" x2="197.68" y2="6.50"/><line x1="253.97" y1="438.2" x2="253.97" y2="435.70"/><line x1="253.97" y1="1" x2="253.97" y2="3.50"/><line x1="310.26" y1="438.2" x2="310.26" y2="432.70"/><line x1="310.26" y1="1" x2="310.26" y2="6.50"/><line x1="366.55" y1="438.2" x2="366.55" y2="435.70"/><line x1="366.55" y1="1" x2="366.55" y2="3.50"/><line x1="422.84" y1="438.2" x2="422.84" y2="432.70"/><line x1="422.84" y1="1" x2="422.84" y2="6.50"/><line x1="479.13" y1="438.2" x2="479.13" y2="435.70"/><line x1="479.13" y1="1" x2="479.13" y2="3.50"/><line x1="535.42" y1="438.2" x2="535.42" y2="432.70"/><line x1="535.42" y1="1" x2="535.42" y2="6.50"/><line x1="591.71" y1="438.2" x2="591.71" y2="435.70"/><line x1="591.71" y1="1" x2="591.71" y2="3.50"/><line x1="648.00" y1="438.2" x2="648.00" y2="432.70"/><line x1="648.00" y1="1" x2="648.00" y2="6.50"/><line x1="26.7" y1="404.60" x2="32.2" y2="404.60"/><line x1="684" y1="404.60" x2="678.5" y2="404.60"/><line x1="26.7" y1="337.20" x2="32.2" y2="337.20"/><line x1="684" y1="337.20" x2="678.5" y2="337.20"/><line x1="26.7" y1="269.80" x2="32.2" y2="269.80"/><line x1="684" y1="269.80" x2="678.5" y2="269.80"/><line x1="26.7" y1="202.40" x2="32.2" y2="202.40"/><line x1="684" y1="202.40" x2="678.5" y2="202.40"/><line x1="26.7" y1="135.00" x2="32.2" y2="135.00"/><line x1="684" y1="135.00" x2="678.5" y2="135.00"/><line x1="26.7" y1="67.60" x2="32.2" y2="67.60"/><line x1="684" y1="67.60" x2="678.5" y2="67.60"/>
</g>
<g font-size="16.1" fill="#111"><text transform="matrix(1 0 0 1.04 85.10 456.8)" text-anchor="middle">5<tspan font-family="NanumGothic, sans-serif">1</tspan>0</text><text transform="matrix(1 0 0 1.04 197.68 456.8)" text-anchor="middle">5<tspan font-family="NanumGothic, sans-serif">1</tspan>5</text><text transform="matrix(1 0 0 1.04 310.26 456.8)" text-anchor="middle">520</text><text transform="matrix(1 0 0 1.04 422.84 456.8)" text-anchor="middle">525</text><text transform="matrix(1 0 0 1.04 535.42 456.8)" text-anchor="middle">530</text><text transform="matrix(1 0 0 1.04 648.00 456.8)" text-anchor="middle">535</text></g>
<text transform="matrix(1 0 0 1.0 270.4 480.6)" font-size="20.4" textLength="170.2" lengthAdjust="spacingAndGlyphs" fill="#111">Photon Energy (eV)</text>
<text transform="translate(13.9 304.7) rotate(-90)" font-size="20" textLength="170.8" lengthAdjust="spacingAndGlyphs" fill="#111">Intensity (arb. units)</text>
<line x1="564" y1="42.5" x2="578.5" y2="42.5" stroke="#ff4a4a" stroke-width="1.1"/>
<line x1="564" y1="66.2" x2="578.5" y2="66.2" stroke="#000" stroke-width="2.2"/>
<g font-size="17" fill="#111">
<text transform="matrix(1 0 0 1.04 583.6 46.9)">VO<tspan font-size="12" dy="3">2</tspan></text>
<text transform="matrix(1 0 0 1.04 584.1 70.5)">LiVO<tspan font-size="12" dy="3">2</tspan></text>
</g>
</svg>
</body></html>
